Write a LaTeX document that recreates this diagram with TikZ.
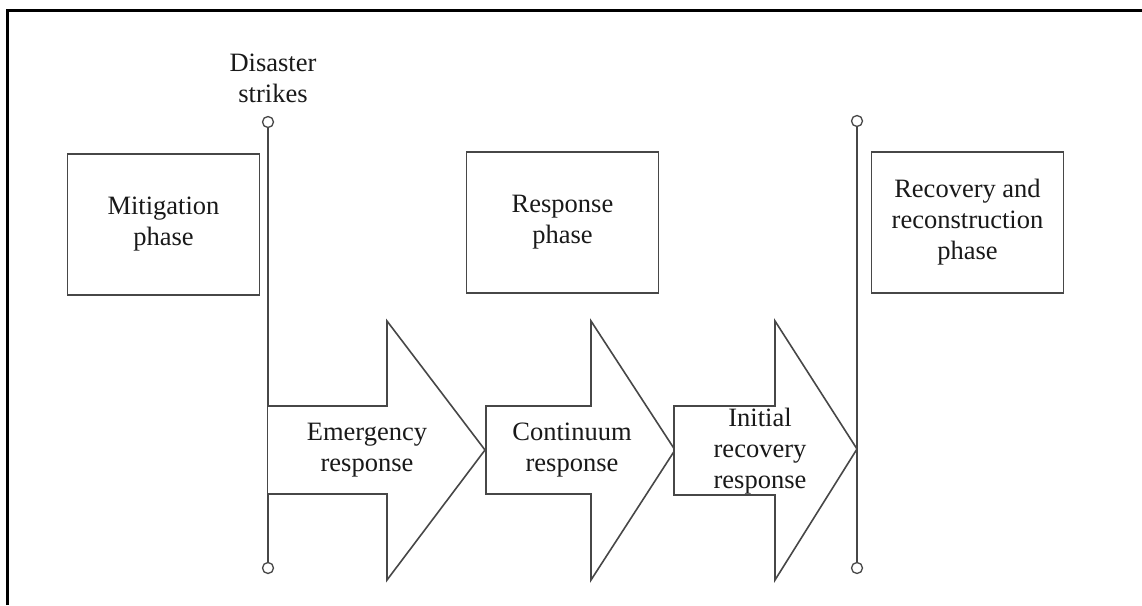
\documentclass[tikz,border=0pt]{standalone}
\usepackage{fontspec}
\setmainfont{Liberation Serif}
\begin{document}
\begin{tikzpicture}[x=1pt,y=-1pt,
  ink/.style={draw=black!72,line width=1.6pt},
  phasebox/.style={ink,rectangle,minimum width=192pt,minimum height=141pt,inner sep=0pt,align=center,font=\fontsize{26.5}{31}\selectfont,text=black!90},
  label/.style={align=center,inner sep=0pt,font=\fontsize{26.5}{31}\selectfont,text=black!90},
  endring/.style={ink,fill=white,line width=1.3pt},
  bigarrow/.style={ink,fill=white,line join=miter}]
\useasboundingbox (0,0) rectangle (1142,605);
% page frame (top and left edges)
\draw[line width=3pt,black] (7,605) -- (7,10) -- (1142,10);

% timeline markers
\coordinate (strikeTop) at (268,122);
\coordinate (strikeBot) at (268,568);
\coordinate (endTop) at (857,121);
\coordinate (endBot) at (857,568);
\draw[ink] (strikeTop) -- (strikeBot);
\draw[ink] (endTop) -- (endBot);
\foreach \c in {strikeTop,strikeBot,endTop,endBot}
  \draw[endring] (\c) circle (5.5pt);
\node[label] (strikes) at (273,78) {Disaster\\strikes};

% phases
\node[phasebox] (mitigation) at (163.5,224.5) {Mitigation\\phase};
\node[phasebox] (response) at (562.5,222.5) {Response\\phase};
\node[phasebox] (recovery) at (967.5,222.5) {Recovery and\\reconstruction\\phase};

% block arrows
\draw[bigarrow] (268,406) -- (387,406) -- (387,321) -- (485,450) -- (387,580) -- (387,494) -- (268,494);
\draw[bigarrow] (486,406) -- (591,406) -- (591,321) -- (675,450) -- (591,580) -- (591,494) -- (486,494) -- cycle;
\draw[bigarrow] (674,406) -- (775,406) -- (775,321) -- (857,449) -- (775,580) -- (775,495) -- (674,495) -- cycle;
\node[label] (emergency) at (367,450) {Emergency\\response};
\node[label] (continuum) at (572,450) {Continuum\\response};
\node[label] (initial) at (760,451) {Initial\\recovery\\response};
\end{tikzpicture}
\end{document}
